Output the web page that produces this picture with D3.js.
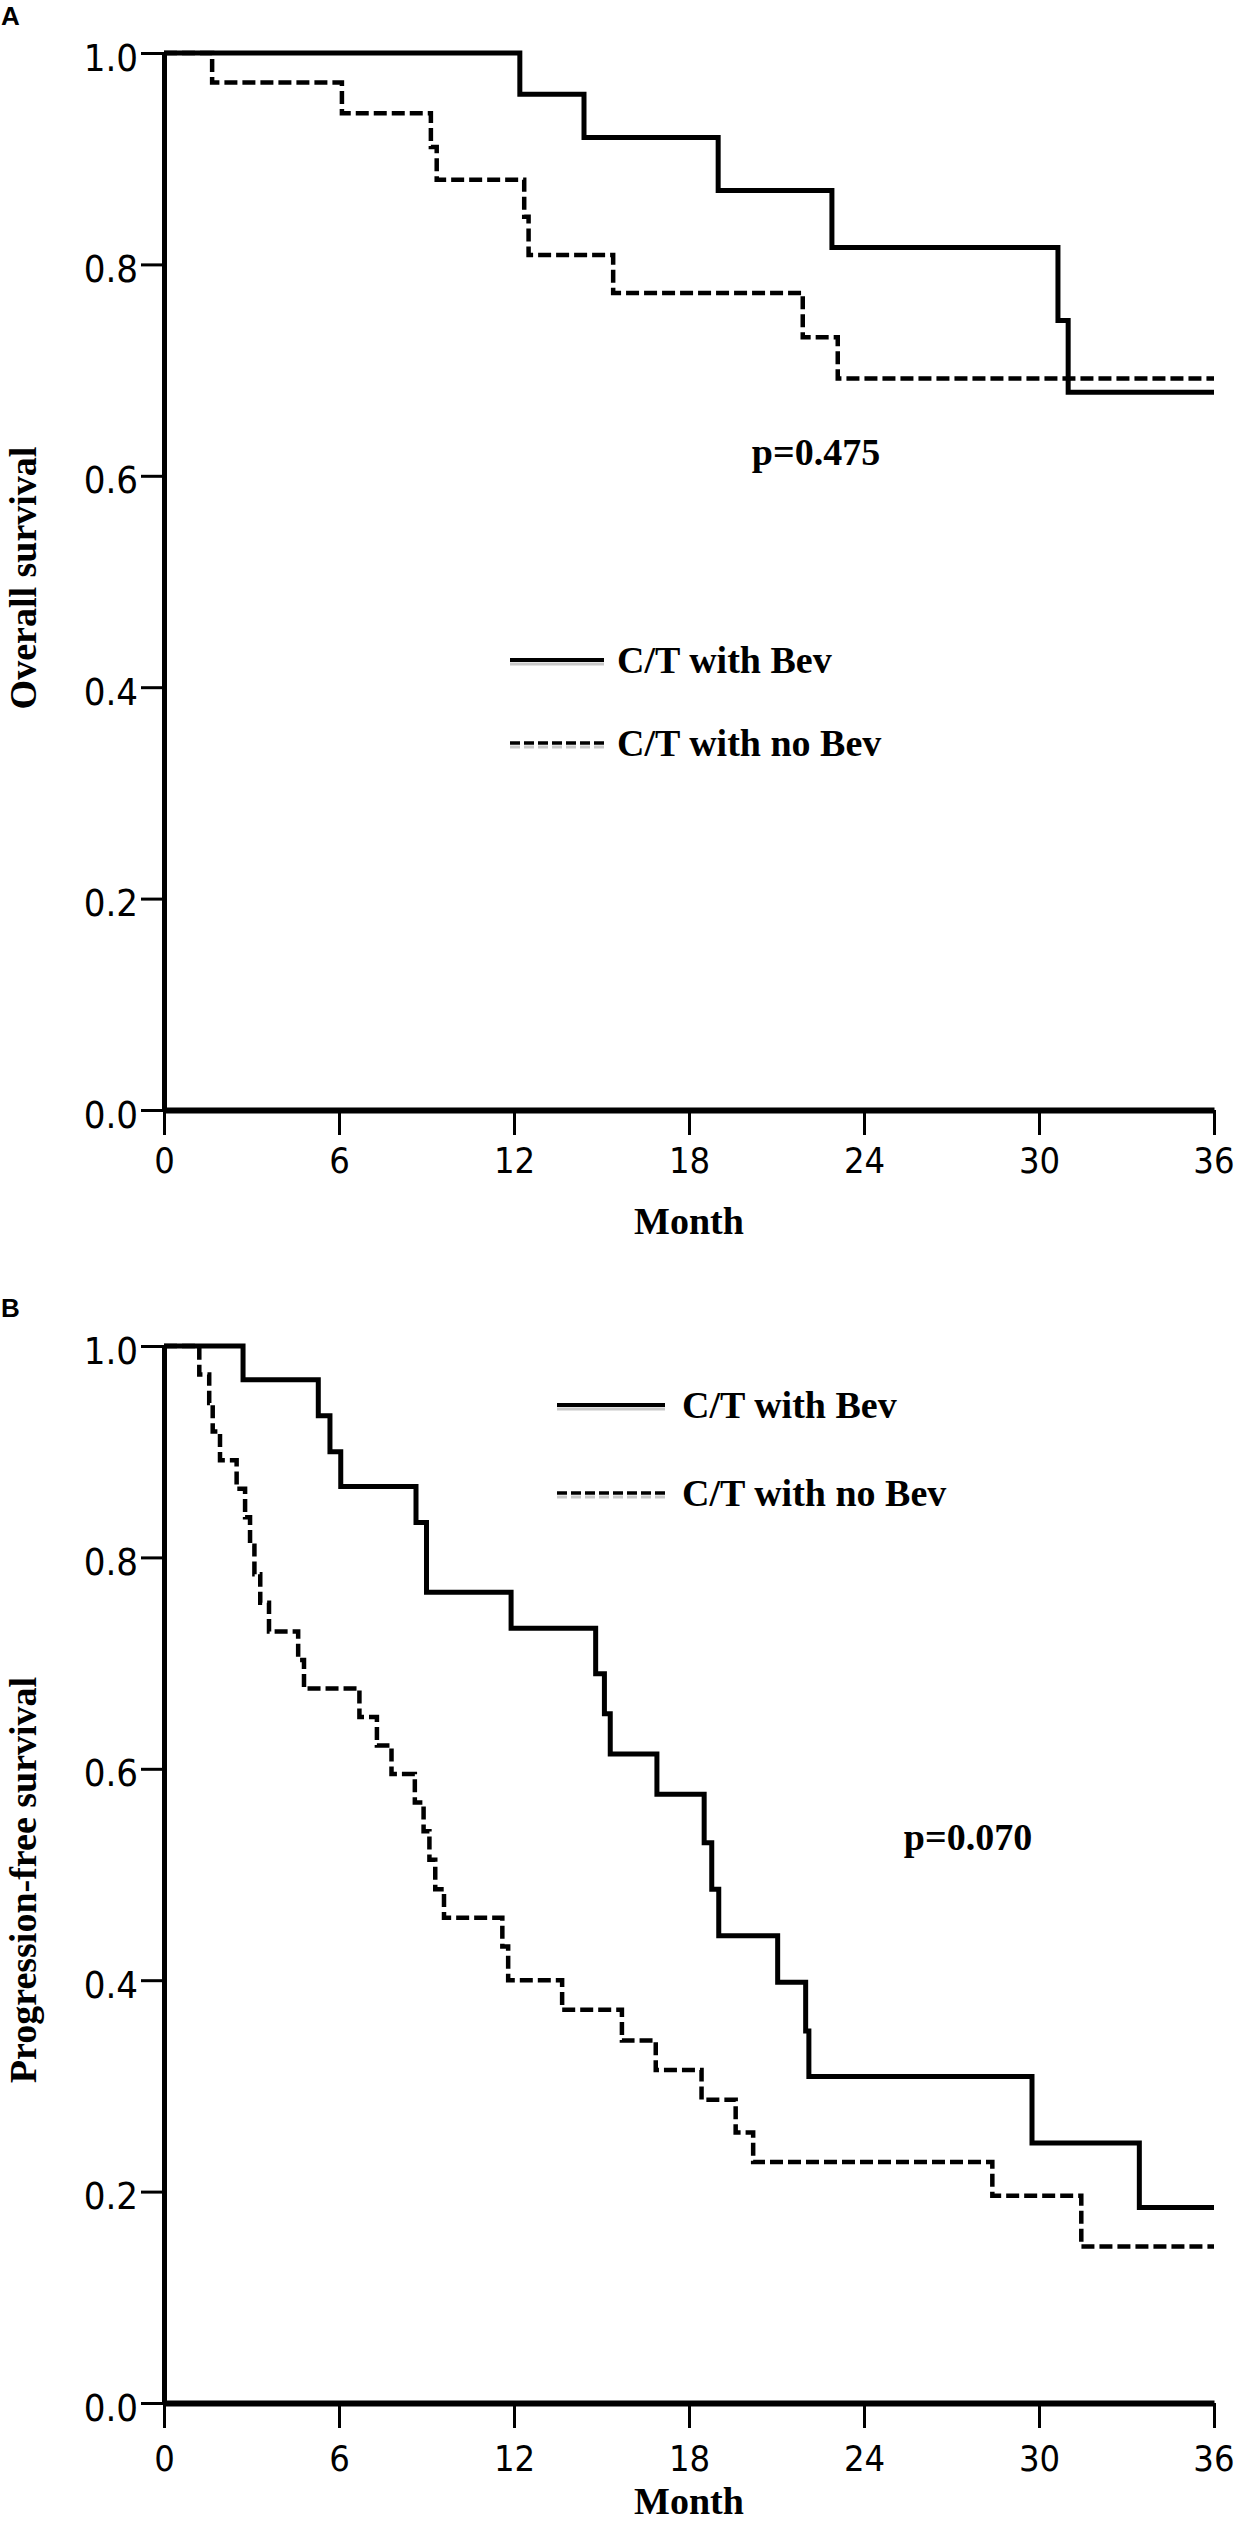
<!DOCTYPE html>
<html>
<head>
<meta charset="utf-8">
<script src="https://cdn.jsdelivr.net/npm/d3@7"></script>
<style>
  html, body { margin: 0; padding: 0; background: #fff; }
  svg { display: block; }
  .tick text { font-family: 'DejaVu Sans Condensed', 'DejaVu Sans', sans-serif; font-stretch: condensed; }
  .serif { font-family: 'Liberation Serif', 'Times New Roman', serif; font-weight: bold; }
</style>
</head>
<body>
<svg id="chart" width="1234" height="2524"></svg>
<script>
// ---- data ----
const monthTicks = [0, 6, 12, 18, 24, 30, 36];
const survTicks = [0, 0.2, 0.4, 0.6, 0.8, 1.0];
const seriesNames = ["C/T with Bev", "C/T with no Bev"];
const panelLetters = ["A", "B"];
const yTitles = ["Overall survival", "Progression-free survival"];
const pValues = ["p=0.475", "p=0.070"];
const xTitle = "Month";

// Panel A: overall survival
const osBevTime   = [0, 12.2, 14.4, 19.0, 22.9, 30.65, 31.0, 36];
const osBevSurv   = [1, 0.961, 0.920, 0.870, 0.816, 0.747, 0.679, 0.679];
const osNoBevTime = [0, 1.65, 6.1, 9.15, 9.35, 12.35, 12.5, 15.4, 21.9, 23.1, 36];
const osNoBevSurv = [1, 0.972, 0.943, 0.911, 0.880, 0.845, 0.809, 0.773, 0.731, 0.692, 0.692];

// Panel B: progression-free survival
const pfsBevTime   = [0, 2.71, 5.29, 5.69, 6.06, 8.64, 9.0, 11.9, 14.8, 15.1, 15.3, 16.9, 18.52, 18.78, 19.02, 21.04, 22.0, 22.11, 29.76, 33.44, 36];
const pfsBevSurv   = [1, 0.968, 0.934, 0.900, 0.867, 0.833, 0.767, 0.733, 0.690, 0.652, 0.614, 0.576, 0.530, 0.486, 0.442, 0.398, 0.352, 0.309, 0.246, 0.185, 0.185];
const pfsNoBevTime = [0, 1.21, 1.55, 1.67, 1.92, 2.49, 2.78, 2.95, 3.1, 3.3, 3.6, 4.6, 4.8, 6.7, 7.3, 7.8, 8.6, 8.9, 9.1, 9.3, 9.6, 11.6, 11.8, 13.65, 15.7, 16.86, 18.43, 19.6, 20.2, 28.4, 31.45, 36];
const pfsNoBevSurv = [1, 0.973, 0.946, 0.919, 0.892, 0.865, 0.838, 0.811, 0.784, 0.757, 0.730, 0.703, 0.676, 0.649, 0.622, 0.595, 0.568, 0.541, 0.514, 0.486, 0.459, 0.432, 0.400, 0.372, 0.343, 0.315, 0.287, 0.256, 0.228, 0.196, 0.148, 0.148];

// ---- layout ----
const svg = d3.select("#chart");
const x = d3.scaleLinear().domain([0, 36]).range([164, 1214]);

const panels = [
  { top: 53, bottom: 1110, letterY: 25,
    bev: [osBevTime, osBevSurv], nobev: [osNoBevTime, osNoBevSurv],
    legend: { x0: 510, x1: 604, tx: 617, y: [660, 743] },
    p: { x: 816, y: 465 }, titleY: 578, monthY: 1234, labelOff: 63 },
  { top: 1346, bottom: 2403, letterY: 1317,
    bev: [pfsBevTime, pfsBevSurv], nobev: [pfsNoBevTime, pfsNoBevSurv],
    legend: { x0: 557, x1: 665, tx: 682, y: [1405, 1493] },
    p: { x: 968, y: 1850 }, titleY: 1880, monthY: 2514, labelOff: 68 }
];

panels.forEach((P, i) => {
  const y = d3.scaleLinear().domain([0, 1]).range([P.bottom, P.top]);
  const g = svg.append("g");

  // panel letter
  g.append("text").attr("x", 1).attr("y", P.letterY)
    .attr("font-family", "'Liberation Sans', Arial, sans-serif").attr("font-weight", "bold")
    .attr("font-size", 26).text(panelLetters[i]);

  // y axis
  const ya = g.append("g").attr("transform", `translate(${x(0)},0)`)
    .call(d3.axisLeft(y).tickValues(survTicks).tickFormat(d3.format(".1f"))
      .tickSize(23).tickSizeOuter(0).tickPadding(3));
  ya.select(".domain").attr("stroke", "#000").attr("stroke-width", 5);
  ya.selectAll(".tick line").attr("stroke", "#000").attr("stroke-width", 3);
  ya.selectAll(".tick text").attr("font-size", 38).attr("fill", "#000").attr("dy", "0.45em");

  // x axis
  const xa = g.append("g").attr("transform", `translate(0,${P.bottom})`)
    .call(d3.axisBottom(x).tickValues(monthTicks).tickFormat(d3.format("d"))
      .tickSize(25).tickSizeOuter(0).tickPadding(8));
  xa.select(".domain").attr("stroke", "#000").attr("stroke-width", 6);
  xa.selectAll(".tick line").attr("stroke", "#000").attr("stroke-width", 3);
  xa.selectAll(".tick text").attr("font-size", 36).attr("fill", "#000")
    .attr("y", 0).attr("dy", 0)
    .attr("text-anchor", d => d === 36 ? "end" : "middle")
    .attr("x", d => d === 36 ? 20 : 0)
    .attr("transform", `translate(0,${P.labelOff})`);

  // curves
  const line = d3.line().curve(d3.curveStepAfter)
    .x(d => x(d[0])).y(d => y(d[1]));
  const bevPts = P.bev[0].map((t, k) => [t, P.bev[1][k]]);
  const noPts = P.nobev[0].map((t, k) => [t, P.nobev[1][k]]);
  g.append("path").datum(noPts).attr("d", line).attr("fill", "none")
    .attr("stroke", "#000").attr("stroke-width", 4.5).attr("stroke-dasharray", "13,5");
  g.append("path").datum(bevPts).attr("d", line).attr("fill", "none")
    .attr("stroke", "#000").attr("stroke-width", 5).attr("stroke-linejoin", "miter");

  // legend
  const L = P.legend;
  [0, 1].forEach(k => {
    g.append("line").attr("x1", L.x0).attr("x2", L.x1)
      .attr("y1", L.y[k] + 4).attr("y2", L.y[k] + 4)
      .attr("stroke", "#c8c8c8").attr("stroke-width", 3)
      .attr("stroke-dasharray", k ? "10,4" : null);
    g.append("line").attr("x1", L.x0).attr("x2", L.x1)
      .attr("y1", L.y[k]).attr("y2", L.y[k])
      .attr("stroke", "#000").attr("stroke-width", k ? 3.5 : 4)
      .attr("stroke-dasharray", k ? "10,4" : null);
    g.append("text").attr("class", "serif").attr("x", L.tx).attr("y", L.y[k] + 13)
      .attr("font-size", 38).text(seriesNames[k]);
  });

  // p value
  g.append("text").attr("class", "serif").attr("x", P.p.x).attr("y", P.p.y)
    .attr("text-anchor", "middle").attr("font-size", 38).text(pValues[i]);

  // axis titles
  g.append("text").attr("class", "serif")
    .attr("transform", `translate(36,${P.titleY}) rotate(-90)`)
    .attr("text-anchor", "middle").attr("font-size", 38).text(yTitles[i]);
  g.append("text").attr("class", "serif").attr("x", x(18)).attr("y", P.monthY)
    .attr("text-anchor", "middle").attr("font-size", 38).text(xTitle);
});
</script>
</body>
</html>
